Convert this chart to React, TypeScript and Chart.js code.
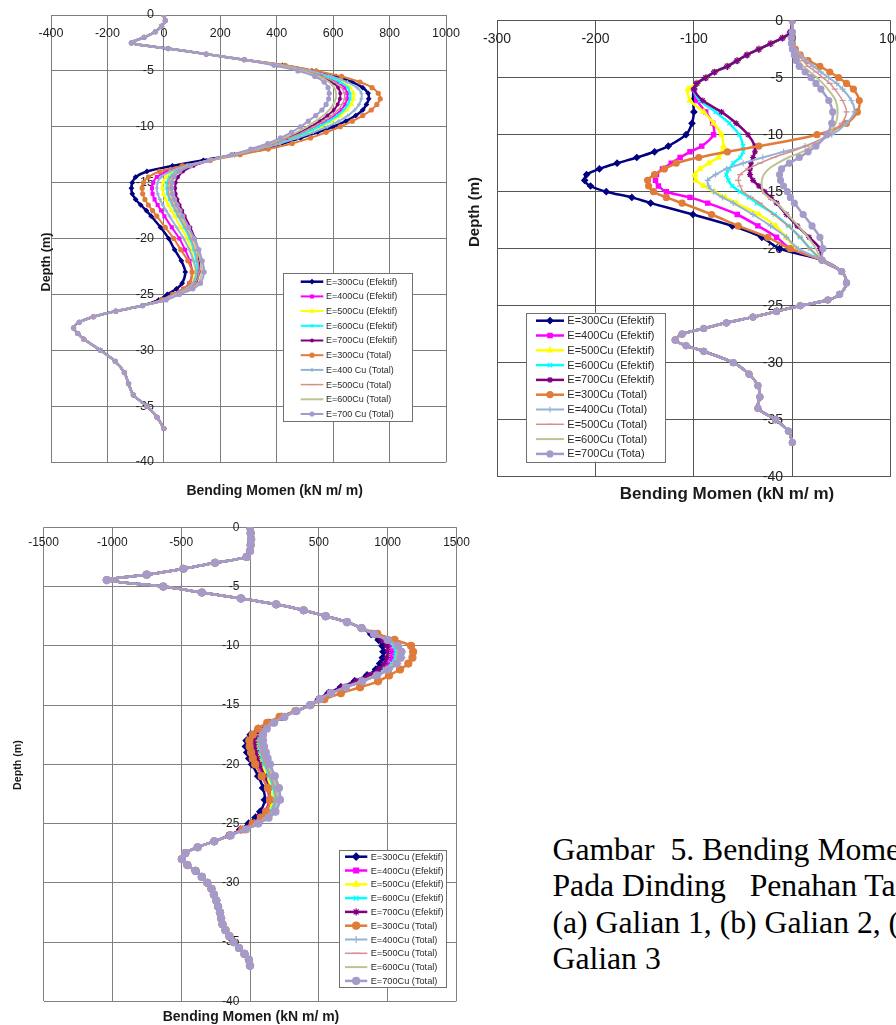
import React, { useEffect, useRef } from 'react';
import { Chart, registerables } from 'chart.js';
import { drawPoint } from 'chart.js/helpers';

Chart.register(...registerables);

const SANS = '"Liberation Sans", Arial, sans-serif';

// ---------- shared ----------
const Y_TICKS = [0, -5, -10, -15, -20, -25, -30, -35, -40];
const X_TICKS_A = [-400, -200, 0, 200, 400, 600, 800, 1000];
const X_TICKS_B = [-300, -200, -100, 0, 100];
const X_TICKS_C = [-1500, -1000, -500, 0, 500, 1000, 1500];

const LABELS_A = ['E=300Cu (Efektif)', 'E=400Cu (Efektif)', 'E=500Cu (Efektif)', 'E=600Cu (Efektif)', 'E=700Cu (Efektif)', 'E=300Cu (Total)', 'E=400 Cu (Total)', 'E=500Cu (Total)', 'E=600Cu (Total)', 'E=700 Cu (Total)'];
const LABELS_B = ['E=300Cu (Efektif)', 'E=400Cu (Efektif)', 'E=500Cu (Efektif)', 'E=600Cu (Efektif)', 'E=700Cu (Efektif)', 'E=300Cu (Total)', 'E=400Cu (Total)', 'E=500Cu (Total)', 'E=600Cu (Total)', 'E=700Cu (Tota)'];
const LABELS_C = ['E=300Cu (Efektif)', 'E=400Cu (Efektif)', 'E=500Cu (Efektif)', 'E=600Cu (Efektif)', 'E=700Cu (Efektif)', 'E=300Cu (Total)', 'E=400Cu (Total)', 'E=500Cu (Total)', 'E=600Cu (Total)', 'E=700Cu (Total)'];

const COLORS = ['#000080', '#FF00FF', '#FFFF00', '#00FFFF', '#800080', '#E07B39', '#95B3D7', '#D4908C', '#BCC592', '#A59BCB'];
const POINT_STYLES = ['rectRot', 'rect', 'triangle', 'crossRot', 'star', 'circle', 'cross', 'line', 'circle', 'circle'];

// ---------- chart (a) Galian 1 ----------
const A_TOP_DEPTH = [0, -0.5, -1, -1.5, -2, -2.5, -3, -3.5, -4];
const A_TOP_MOMENT = [0, 5, -8, -30, -70, -115, 15, 150, 285];
const A_MID_DEPTH = [-4.5, -5, -5.5, -6, -6.5, -7, -7.5, -8, -8.5, -9, -9.5, -10, -10.5, -11, -11.5, -12, -12.5,
  -13, -13.5, -14, -14.5, -15, -15.5, -16, -16.5, -17, -17.5, -18, -19, -20, -21, -22, -23, -24, -24.5, -25, -25.5];
const A_TAIL_DEPTH = [-26, -26.5, -27, -27.5, -28, -28.5, -29, -30, -31, -32, -33, -34, -35, -36, -37];
const A_TAIL_MOMENT = [-75, -170, -250, -300, -320, -305, -284, -225, -172, -140, -125, -108, -60, -24, 0];

const A_300E = [420, 525, 610, 668, 705, 724, 726, 718, 705, 680, 645, 600, 545, 485, 420, 340, 250,
  140, 30, -60, -100, -112, -115, -112, -100, -82, -62, -45, -12, 17, 38, 62, 76, 65, 45, 12, -18];
const A_400E = [410, 500, 570, 615, 640, 650, 650, 642, 628, 605, 575, 540, 500, 450, 395, 325, 245,
  160, 75, 10, -25, -38, -42, -40, -33, -22, -10, 2, 28, 55, 75, 92, 100, 90, 68, 30, -10];
const A_500E = [412, 508, 585, 632, 660, 672, 672, 664, 648, 625, 594, 556, 512, 460, 402, 330, 247,
  162, 85, 35, 8, -3, -5, -2, 6, 16, 27, 38, 60, 82, 98, 106, 110, 100, 78, 38, -3];
const A_600E = [411, 504, 578, 625, 652, 660, 660, 652, 638, 615, 585, 548, 506, 455, 398, 328, 246,
  162, 90, 42, 20, 11, 10, 13, 20, 30, 40, 50, 72, 92, 106, 115, 120, 108, 85, 45, 2];
const A_700E = [405, 492, 556, 596, 618, 625, 624, 616, 602, 580, 553, 520, 482, 436, 385, 318, 243,
  165, 105, 68, 50, 42, 40, 42, 48, 56, 65, 74, 94, 110, 120, 125, 125, 113, 90, 50, 5];
const A_300T = [430, 540, 630, 695, 738, 760, 767, 755, 735, 705, 668, 625, 575, 520, 455, 370, 270,
  165, 65, -15, -55, -72, -77, -75, -67, -55, -40, -25, 5, 35, 60, 85, 100, 92, 70, 32, -8];
const A_400T = [418, 515, 595, 650, 685, 700, 700, 692, 676, 652, 620, 580, 530, 475, 413, 335, 250,
  162, 80, 22, -10, -22, -25, -22, -14, -4, 8, 20, 45, 70, 90, 105, 115, 103, 80, 40, -2];
const A_500T = [408, 496, 562, 606, 630, 640, 640, 632, 618, 595, 566, 531, 492, 444, 390, 322, 244,
  162, 92, 46, 25, 16, 15, 17, 24, 33, 43, 53, 76, 96, 110, 120, 125, 112, 88, 48, 4];
const A_600T = [400, 485, 548, 585, 604, 610, 609, 600, 586, 565, 538, 507, 470, 426, 376, 314, 242,
  162, 95, 52, 32, 23, 22, 25, 31, 40, 50, 60, 82, 103, 118, 130, 135, 122, 96, 52, 6];
const A_700T = [390, 475, 535, 568, 582, 586, 584, 575, 560, 538, 512, 484, 452, 413, 368, 308, 240,
  160, 95, 55, 36, 29, 28, 31, 38, 47, 57, 67, 88, 108, 124, 136, 143, 130, 103, 55, 8];

// ---------- chart (b) Galian 2 ----------
const B_TOP_DEPTH = [0, -1, -1.5, -2, -2.5, -3, -3.5, -4, -4.5, -5, -5.5];
const B_EFF_TOP = [0, -2, -10, -22, -34, -46, -56, -66, -79, -88, -97];
const B_MID_DEPTH = [-6, -7, -8, -9, -10, -11, -11.5, -12, -12.5, -13, -13.5, -14, -14.5, -15, -15.5, -16, -17, -18, -19, -20];
const B_TAIL_DEPTH = [-21, -22, -23, -24, -24.5, -25, -25.5, -26, -26.5, -27, -27.5, -28, -28.5, -29, -30, -31, -32, -33, -34, -35, -36, -37];
const B_TAIL_MOMENT = [30, 50, 55, 48, 36, 8, -16, -40, -67, -90, -112, -119, -108, -90, -60, -44, -35, -33, -35, -17, -4, 0];

const B_300E = [-100, -101, -100, -102, -108, -126, -140, -158, -178, -196, -209, -211, -205, -189, -163, -144, -101, -61, -31, -13];
const B_400E = [-100, -97, -88, -81, -80, -92, -104, -114, -123, -132, -138, -139, -136, -128, -104, -86, -56, -35, -16, -2];
const B_500E = [-106, -104, -90, -80, -72, -70, -71, -75, -85, -94, -99, -98, -90, -79, -68, -57, -34, -17, -6, 4];
const B_600E = [-100, -94, -78, -64, -54, -50, -50, -53, -60, -64, -67, -65, -61, -53, -44, -36, -18, -4, 8, 18];
const B_700E = [-100, -91, -72, -57, -45, -38, -38, -40, -42, -43, -43, -40, -34, -28, -22, -16, -6, 5, 17, 28];
const B_300T = [0, 0, -1, 0, 3, 8, 16, 28, 38, 47, 55, 62, 68, 66, 55, 25, -34, -66, -95, -118, -130, -140, -147, -146, -141, -128, -112, -82, -55, -25, -2];
const B_400T = [0, 0, -1, 0, 3, 8, 14, 21, 29, 37, 45, 51, 60, 63, 55, 40, 13, -9, -30, -50, -67, -78, -86, -85, -80, -71, -60, -40, -22, -6, 6];
const B_500T = [0, 0, -1, 0, 2, 6, 11, 16, 24, 31, 38, 43, 51, 55, 50, 37, 14, -2, -19, -33, -45, -53, -55, -53, -50, -42, -33, -19, -4, 8, 18];
const B_600T = [0, 0, -1, 0, 1, 4, 7, 11, 18, 25, 31, 36, 44, 46, 44, 36, 20, 10, -4, -15, -24, -29, -31, -31, -30, -24, -16, -5, 6, 16, 24];
const B_700T = [0, 0, -1, -1, 0, 2, 4, 7, 13, 19, 24, 29, 37, 41, 40, 35, 24, 16, 7, -3, -11, -13, -12, -9, -5, -2, 2, 11, 20, 28, 31];

// ---------- chart (c) Galian 3 ----------
const C_TOP_DEPTH = [0, -0.5, -1, -1.5, -2, -2.5, -3, -3.5, -4, -4.45, -5, -5.5, -6, -6.5, -7, -7.5, -8, -8.5];
const C_TOP_MOMENT = [0, 5, 8, 5, 0, -24, -254, -484, -750, -1040, -630, -350, -66, 190, 390, 550, 705, 810];
const C_MID_DEPTH = [-9, -9.5, -10, -10.5, -11, -11.5, -12, -12.5, -13, -13.5, -14, -14.5, -15, -15.5,
  -16, -16.5, -17, -17.5, -18, -18.5, -19, -19.5, -20, -21, -22, -23, -24, -24.5, -25, -25.5, -26];
const C_TAIL_DEPTH = [-26.5, -27, -27.5, -28, -28.5, -29, -29.5, -30, -30.5, -31, -31.5, -32, -32.5, -33, -33.5, -34, -34.5, -35, -35.5, -36, -36.5, -37];
const C_TAIL_MOMENT = [-260, -380, -470, -495, -455, -395, -350, -310, -280, -262, -245, -232, -218, -210, -200, -178, -150, -120, -80, -40, -8, 0];

const C_300E = [880, 935, 962, 970, 965, 945, 915, 850, 760, 660, 570, 500, 436, 335,
  230, 135, 60, 5, -25, -30, -20, -5, 15, 60, 95, 108, 75, 40, -10, -70, -150];
const C_400E = [895, 975, 1025, 1040, 1035, 1010, 965, 890, 790, 680, 580, 505, 436, 335,
  225, 135, 70, 30, 15, 15, 25, 35, 50, 90, 125, 140, 110, 72, 15, -60, -150];
const C_500E = [900, 990, 1060, 1080, 1075, 1045, 990, 910, 805, 690, 585, 505, 436, 337,
  235, 150, 90, 55, 45, 50, 60, 70, 85, 120, 150, 160, 130, 90, 30, -50, -145];
const C_600E = [898, 985, 1045, 1060, 1055, 1030, 980, 900, 800, 685, 583, 505, 436, 337,
  240, 160, 100, 70, 62, 68, 78, 90, 105, 140, 170, 180, 148, 105, 40, -45, -145];
const C_700E = [890, 960, 995, 1000, 995, 975, 935, 865, 770, 665, 572, 500, 436, 336,
  235, 150, 88, 50, 35, 35, 45, 55, 70, 105, 135, 145, 115, 80, 25, -55, -150];
const C_300T = [925, 1050, 1170, 1185, 1180, 1150, 1090, 1010, 930, 800, 660, 540, 440, 330,
  215, 125, 60, 20, -5, -3, 8, 20, 38, 85, 130, 145, 118, 80, 20, -55, -145];
const C_400T = [905, 1005, 1085, 1110, 1105, 1075, 1015, 930, 820, 700, 590, 508, 436, 338,
  245, 165, 110, 80, 75, 82, 92, 105, 120, 155, 185, 195, 160, 115, 48, -40, -145];
const C_500T = [900, 995, 1065, 1080, 1075, 1048, 995, 912, 806, 692, 586, 506, 436, 337,
  240, 160, 102, 72, 65, 72, 82, 95, 110, 145, 175, 185, 152, 110, 45, -42, -145];
const C_600T = [900, 990, 1055, 1070, 1065, 1040, 988, 906, 802, 688, 584, 505, 436, 337,
  248, 170, 115, 88, 85, 92, 102, 115, 130, 165, 195, 208, 172, 125, 55, -35, -145];
const C_700T = [902, 1000, 1075, 1100, 1095, 1065, 1005, 922, 815, 697, 588, 507, 436, 338,
  250, 175, 122, 95, 95, 102, 115, 128, 145, 180, 210, 218, 185, 135, 60, -30, -140];

// ---------- build series ----------
const A_DEPTH = [...A_TOP_DEPTH, ...A_MID_DEPTH, ...A_TAIL_DEPTH];
const A_SERIES = [A_300E, A_400E, A_500E, A_600E, A_700E, A_300T, A_400T, A_500T, A_600T, A_700T]
  .map((mid) => [...A_TOP_MOMENT, ...mid, ...A_TAIL_MOMENT]);

const B_DEPTH = [...B_TOP_DEPTH, ...B_MID_DEPTH, ...B_TAIL_DEPTH];
const B_SERIES = [
  ...[B_300E, B_400E, B_500E, B_600E, B_700E].map((mid) => [...B_EFF_TOP, ...mid, ...B_TAIL_MOMENT]),
  ...[B_300T, B_400T, B_500T, B_600T, B_700T].map((top) => [...top, ...B_TAIL_MOMENT]),
];

const C_DEPTH = [...C_TOP_DEPTH, ...C_MID_DEPTH, ...C_TAIL_DEPTH];
const C_SERIES = [C_300E, C_400E, C_500E, C_600E, C_700E, C_300T, C_400T, C_500T, C_600T, C_700T]
  .map((mid) => [...C_TOP_MOMENT, ...mid, ...C_TAIL_MOMENT]);

type Spec = {
  left: number; top: number; w: number; h: number;
  pad: { left: number; right: number; top: number; bottom: number };
  xMin: number; xMax: number; xStep: number; xTicks: number[];
  gridColor: string;
  depth: number[]; series: number[][]; labels: string[];
  lineWidths: number[]; pointRadius: number;
  tickSize: number; xLabelOffset: number; yLabelGap: number;
  legend: { x1: number; y1: number; x2: number; y2: number; firstY: number; step: number; sx1: number; sx2: number; tx: number; size: number };
  xTitle: { x: number; y: number; size: number };
  yTitle: { x: number; y: number; size: number };
};

const SPEC_A: Spec = {
  left: 0, top: 0, w: 462, h: 505,
  pad: { left: 51, right: 16, top: 15, bottom: 43 },
  xMin: -400, xMax: 1000, xStep: 200, xTicks: X_TICKS_A,
  gridColor: '#7c7c7c',
  depth: A_DEPTH, series: A_SERIES, labels: LABELS_A,
  lineWidths: [2.5, 2, 2, 2, 2, 2, 2, 1.5, 2, 2], pointRadius: 2,
  tickSize: 12.5, xLabelOffset: 18.3, yLabelGap: 10,
  legend: { x1: 283.3, y1: 273.3, x2: 412.3, y2: 421.7, firstY: 281.7, step: 14.7, sx1: 300.7, sx2: 323.3, tx: 326, size: 9 },
  xTitle: { x: 274.7, y: 490.7, size: 14 },
  yTitle: { x: 47, y: 262, size: 12.6 },
};

const SPEC_B: Spec = {
  left: 463, top: 0, w: 433, h: 505,
  pad: { left: 34, right: 4.5, top: 20.7, bottom: 28.3 },
  xMin: -300, xMax: 100, xStep: 100, xTicks: X_TICKS_B,
  gridColor: '#555555',
  depth: B_DEPTH, series: B_SERIES, labels: LABELS_B,
  lineWidths: [2.5, 2.5, 2.5, 2.5, 2.5, 2.5, 2, 1.5, 2, 2.5], pointRadius: 3,
  tickSize: 14, xLabelOffset: 18.6, yLabelGap: 9.4,
  legend: { x1: 526, y1: 312.7, x2: 665, y2: 461.7, firstY: 320.7, step: 14.8, sx1: 536, sx2: 564, tx: 567.3, size: 11 },
  xTitle: { x: 727, y: 494, size: 17 },
  yTitle: { x: 475, y: 212, size: 15 },
};

const SPEC_C: Spec = {
  left: 0, top: 510, w: 470, h: 515,
  pad: { left: 43.5, right: 13.5, top: 17.3, bottom: 23.7 },
  xMin: -1500, xMax: 1500, xStep: 500, xTicks: X_TICKS_C,
  gridColor: '#808080',
  depth: C_DEPTH, series: C_SERIES, labels: LABELS_C,
  lineWidths: [2.5, 2.5, 2.5, 2.5, 2.5, 2.5, 2, 1.5, 2, 2.5], pointRadius: 3.5,
  tickSize: 12, xLabelOffset: 15, yLabelGap: 10.7,
  legend: { x1: 339.3, y1: 850, x2: 446.7, y2: 987.3, firstY: 856.7, step: 13.8, sx1: 345, sx2: 367.3, tx: 370.7, size: 9.2 },
  xTitle: { x: 251, y: 1016.7, size: 14 },
  yTitle: { x: 18, y: 765, size: 10.7 },
};

function makeDecor(spec: Spec) {
  const ox = spec.left;
  const oy = spec.top;
  return {
    id: 'decor',
    beforeDatasetsDraw(chart: any) {
      const ctx = chart.ctx;
      const xs = chart.scales.x;
      const ys = chart.scales.y;
      ctx.save();
      ctx.fillStyle = '#1e1e1e';
      ctx.font = `${spec.tickSize}px ${SANS}`;
      ctx.textAlign = 'center';
      ctx.textBaseline = 'middle';
      const y0 = ys.getPixelForValue(0);
      spec.xTicks.forEach((v) => ctx.fillText(String(v), xs.getPixelForValue(v), y0 + spec.xLabelOffset));
      ctx.textAlign = 'right';
      const x0 = xs.getPixelForValue(0);
      Y_TICKS.forEach((v) => ctx.fillText(String(v), x0 - spec.yLabelGap, ys.getPixelForValue(v)));
      ctx.restore();
    },
    afterDraw(chart: any) {
      const ctx = chart.ctx;
      ctx.save();
      // titles
      ctx.fillStyle = '#1a1a1a';
      ctx.textAlign = 'center';
      ctx.textBaseline = 'middle';
      ctx.font = `bold ${spec.xTitle.size}px ${SANS}`;
      ctx.fillText('Bending Momen (kN m/ m)', spec.xTitle.x - ox, spec.xTitle.y - oy);
      ctx.save();
      ctx.translate(spec.yTitle.x - ox, spec.yTitle.y - oy);
      ctx.rotate(-Math.PI / 2);
      ctx.font = `bold ${spec.yTitle.size}px ${SANS}`;
      ctx.fillText('Depth (m)', 0, 0);
      ctx.restore();
      // legend
      const L = spec.legend;
      ctx.fillStyle = '#ffffff';
      ctx.fillRect(L.x1 - ox, L.y1 - oy, L.x2 - L.x1, L.y2 - L.y1);
      ctx.strokeStyle = '#707070';
      ctx.lineWidth = 1;
      ctx.strokeRect(Math.round(L.x1 - ox) + 0.5, Math.round(L.y1 - oy) + 0.5, Math.round(L.x2 - L.x1), Math.round(L.y2 - L.y1));
      chart.data.datasets.forEach((ds: any, i: number) => {
        const y = L.firstY + i * L.step - oy;
        ctx.strokeStyle = ds.borderColor;
        ctx.lineWidth = ds.borderWidth;
        ctx.beginPath();
        ctx.moveTo(L.sx1 - ox, y);
        ctx.lineTo(L.sx2 - ox, y);
        ctx.stroke();
        if (ds.pointRadius > 0) {
          ctx.fillStyle = ds.pointBackgroundColor;
          ctx.strokeStyle = ds.pointBorderColor;
          ctx.lineWidth = ds.pointBorderWidth;
          drawPoint(ctx, { pointStyle: ds.pointStyle, rotation: 0, radius: ds.pointRadius, borderWidth: ds.pointBorderWidth } as any, (L.sx1 + L.sx2) / 2 - ox, y);
        }
        ctx.fillStyle = '#2a2a2a';
        ctx.font = `${L.size}px ${SANS}`;
        ctx.textAlign = 'left';
        ctx.textBaseline = 'middle';
        ctx.fillText(spec.labels[i], L.tx - ox, y + 0.5);
      });
      ctx.restore();
    },
  };
}

function Panel({ spec }: { spec: Spec }) {
  const ref = useRef<HTMLCanvasElement>(null);
  useEffect(() => {
    const canvas = ref.current;
    if (!canvas) return;
    const datasets = spec.series.map((m, i) => ({
      label: spec.labels[i],
      data: spec.depth.map((d, k) => ({ x: m[k], y: d })),
      showLine: true,
      fill: false,
      tension: 0.3,
      borderColor: COLORS[i],
      backgroundColor: COLORS[i],
      borderWidth: spec.lineWidths[i],
      pointStyle: POINT_STYLES[i],
      pointRadius: i === 8 ? 0 : spec.pointRadius,
      pointBackgroundColor: COLORS[i],
      pointBorderColor: COLORS[i],
      pointBorderWidth: 1.2,
      order: 10 - i,
    }));
    const chart = new Chart(canvas, {
      type: 'scatter',
      data: { datasets },
      options: {
        animation: false,
        responsive: false,
        devicePixelRatio: 1,
        events: [],
        layout: { padding: spec.pad },
        plugins: { legend: { display: false }, tooltip: { enabled: false } },
        scales: {
          x: {
            type: 'linear', min: spec.xMin, max: spec.xMax,
            ticks: { display: false, stepSize: spec.xStep },
            grid: { color: spec.gridColor, lineWidth: 1, drawTicks: false },
            border: { display: false },
          },
          y: {
            type: 'linear', min: -40, max: 0,
            ticks: { display: false, stepSize: 5 },
            grid: { color: spec.gridColor, lineWidth: 1, drawTicks: false },
            border: { display: false },
          },
        },
      } as any,
      plugins: [makeDecor(spec) as any],
    });
    return () => chart.destroy();
  }, [spec]);
  return (
    <canvas
      ref={ref}
      width={spec.w}
      height={spec.h}
      style={{ position: 'absolute', left: spec.left, top: spec.top, width: spec.w, height: spec.h }}
    />
  );
}

const CAPTION_LINES = ['Gambar  5. Bending Momen', 'Pada Dinding   Penahan Tanah', '(a) Galian 1, (b) Galian 2, (c)', 'Galian 3'];

export default function App() {
  return (
    <div style={{ position: 'absolute', left: 0, top: 0, width: 896, height: 1025, overflow: 'hidden', background: '#fff' }}>
      <Panel spec={SPEC_A} />
      <Panel spec={SPEC_B} />
      <Panel spec={SPEC_C} />
      <div
        style={{
          position: 'absolute', left: 552.5, top: 832, width: 343.5, overflow: 'hidden',
          fontFamily: '"Liberation Serif", "Times New Roman", serif', fontSize: 31.7, lineHeight: '36.3px',
          whiteSpace: 'pre', color: '#000',
        }}
      >
        {CAPTION_LINES.map((t, i) => (
          <div key={i}>{t}</div>
        ))}
      </div>
    </div>
  );
}
